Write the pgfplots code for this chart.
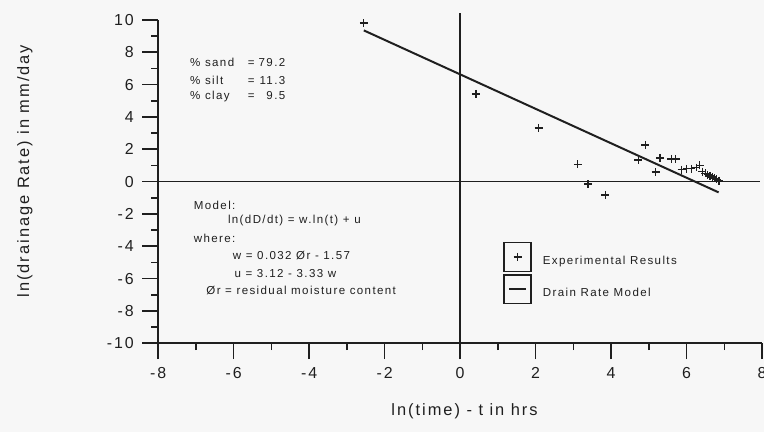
\documentclass[border=0pt]{standalone}
\usepackage{pgfplots}
\pgfplotsset{compat=1.18}
\usepackage{fontspec}
\setmainfont{Liberation Sans}[LetterSpace=12]
\newcommand{\annfont}{\fontsize{11.6}{18.3}\selectfont}
\begin{document}
\pagecolor{black!3}
\begin{tikzpicture}[ann/.style={inner sep=0pt, font=\annfont, text=black!88}]
\begin{axis}[
  x=37.94pt, y=16.25pt,
  xmin=-8, xmax=8, ymin=-10, ymax=10,
  axis x line=bottom, axis y line=left,
  axis line style={-, line width=2pt, black!88},
  xtick={-8,-6,...,8}, ytick={-10,-8,...,10},
  xticklabels={-8,-6,-4,-2,0,2,4,6,8},
  yticklabels={-10,-8,-6,-4,-2,0,2,4,6,8,10},
  minor x tick num=1, minor y tick num=1,
  tick align=outside,
  major tick length=16pt, minor tick length=7pt,
  tick style={line width=1.6pt, black!88},
  tick label style={font=\fontsize{16}{19}\selectfont, black!88},
  xticklabel style={yshift=-5pt},
  yticklabel style={xshift=-5pt},
  every axis x label/.style={at={(axis description cs:0.5074,-0.209)}, anchor=center, font=\fontsize{16.5}{20}\selectfont, black!88},
  every axis y label/.style={at={(axis description cs:-0.2206,0.5325)}, anchor=center, rotate=90, font=\fontsize{16.5}{20}\selectfont, black!88},
  xlabel={ln(time) - t in hrs},
  ylabel={ln(drainage Rate) in mm/day},
  clip=false,
  legend cell align=left,
  legend style={at={(axis cs:1.147,-3.723)}, anchor=north west, draw=none, fill=none,
    inner sep=0pt, outer sep=0pt, row sep=2pt, font=\annfont, text=black!88,
    nodes={inner sep=0pt}},
]
% reference lines through the origin
\addplot[line width=1.7pt, black!88, forget plot] coordinates {(-8,0) (7.95,0)};
\addplot[line width=1.7pt, black!88, forget plot] coordinates {(0,-10) (0,10.4)};

\addplot[only marks, mark=+, mark size=4pt, black!88, mark options={line width=1.3pt},
  legend image code/.code={
    \draw[line width=1.5pt, black!88] (0pt,-10.5pt) rectangle (27pt,18.5pt);
    \draw[black!88, line width=1.3pt] plot[mark=+, mark size=4pt] coordinates {(13.5pt,4pt)};
    \path (38pt,4pt);
  }] coordinates {
  (-2.55,9.80) (0.42,5.42) (2.08,3.32) (3.12,1.07) (3.39,-0.15) (3.85,-0.84)
  (4.72,1.34) (4.91,2.26) (5.18,0.59) (5.30,1.46) (5.60,1.40) (5.71,1.40)
  (5.87,0.73) (6.00,0.79) (6.13,0.79) (6.26,0.87) (6.35,1.00) (6.42,0.62)
  (6.50,0.50) (6.56,0.42) (6.62,0.35) (6.68,0.28) (6.74,0.20) (6.80,0.13)
  (6.86,0.06)
};
\addlegendentry{Experimental Results}

\addplot[line width=2pt, black!88,
  legend image code/.code={
    \draw[line width=1.5pt, black!88] (0pt,-10.5pt) rectangle (27pt,18.5pt);
    \draw[line width=1.6pt, black!88] (5pt,4pt) -- (22pt,4pt);
    \path (38pt,4pt);
  }] coordinates {(-2.55,9.35) (6.85,-0.67)};
\addlegendentry{Drain Rate Model}

% soil composition
\node[ann, anchor=base west] at (axis cs:-7.156,7.138) {\% sand};
\node[ann, anchor=base west] at (axis cs:-7.156,5.988) {\% silt};
\node[ann, anchor=base west] at (axis cs:-7.156,5.095) {\% clay};
\node[ann, anchor=base west] at (axis cs:-5.627,7.138) {=};
\node[ann, anchor=base west] at (axis cs:-5.627,5.988) {=};
\node[ann, anchor=base west] at (axis cs:-5.627,5.095) {=};
\node[ann, anchor=base east] at (axis cs:-4.626,7.138) {79.2};
\node[ann, anchor=base east] at (axis cs:-4.626,5.988) {11.3};
\node[ann, anchor=base east] at (axis cs:-4.626,5.095) {9.5};
% model
\node[ann, anchor=base west] at (axis cs:-7.058,-1.705) {Model:};
\node[ann, anchor=base west] at (axis cs:-6.154,-2.609) {ln(dD/dt) = w.ln(t) + u};
\node[ann, anchor=base west] at (axis cs:-7.058,-3.797) {where:};
\node[ann, anchor=base west] at (axis cs:-6.023,-4.825) {w = 0.032 Ør - 1.57};
\node[ann, anchor=base west] at (axis cs:-5.978,-5.951) {u = 3.12 - 3.33 w};
\node[ann, anchor=base west] at (axis cs:-6.726,-6.978) {Ør = residual moisture content};

\coordinate (bbBL) at (axis cs:-12.085,-15.477);
\coordinate (bbTR) at (axis cs:8.052,11.231);
\end{axis}
\pgfresetboundingbox
\path (bbBL) rectangle (bbTR);
\end{tikzpicture}
\end{document}
